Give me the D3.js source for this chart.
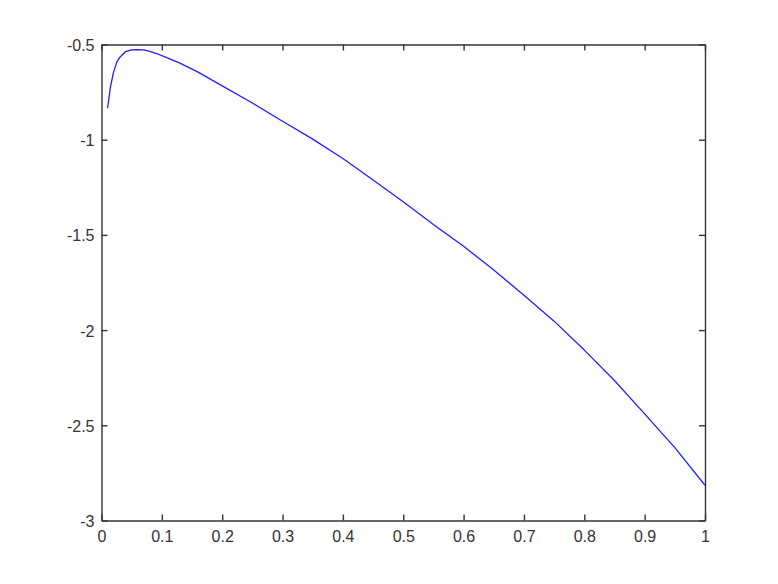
<!DOCTYPE html>
<html>
<head>
<meta charset="utf-8">
<script src="https://cdn.jsdelivr.net/npm/d3@7"></script>
<style>
  body { margin: 0; background: #fff; }
  svg { display: block; }
  .axis text { font-family: "Liberation Sans", Arial, sans-serif; font-size: 16px; fill: #333; }
  .axis path, .axis line { stroke: #333; stroke-width: 1.4; }
</style>
</head>
<body>
<svg id="chart"></svg>
<script>
//* Data
const xValues = [0.01, 0.015, 0.02, 0.025, 0.03, 0.04, 0.05, 0.06, 0.07, 0.08, 0.09, 0.1,
  0.13, 0.16, 0.2, 0.25, 0.3, 0.35, 0.4, 0.45, 0.5, 0.55, 0.6, 0.65, 0.7, 0.75,
  0.8, 0.85, 0.9, 0.95, 1.0];
const yValues = [-0.835, -0.72, -0.645, -0.595, -0.568, -0.537, -0.528, -0.527, -0.528, -0.536, -0.546, -0.558,
  -0.598, -0.645, -0.717, -0.807, -0.903, -0.997, -1.099, -1.212, -1.326, -1.445, -1.56, -1.684, -1.817, -1.953,
  -2.105, -2.265, -2.44, -2.617, -2.815];
const xTicks = [0, 0.1, 0.2, 0.3, 0.4, 0.5, 0.6, 0.7, 0.8, 0.9, 1];
const yTicks = [-3, -2.5, -2, -1.5, -1, -0.5];

const data = xValues.map((x, i) => ({ x: x, y: yValues[i] }));

//* Set chart area
const width = 778;
const height = 584;
const margin = { top: 44.5, right: 73, bottom: 63.5, left: 101.5 };
const innerWidth = width - margin.left - margin.right;
const innerHeight = height - margin.top - margin.bottom;

const svg = d3.select("#chart")
  .attr("width", width)
  .attr("height", height);

const g = svg.append("g")
  .attr("transform", `translate(${margin.left}, ${margin.top})`);

const x = d3.scaleLinear().domain([0, 1]).range([0, innerWidth]);
const y = d3.scaleLinear().domain([-3, -0.5]).range([innerHeight, 0]);

const fmt = d => String(+d.toFixed(2));

// box with inward ticks on all sides
g.append("g")
  .attr("class", "axis")
  .attr("transform", `translate(0, ${innerHeight})`)
  .call(d3.axisBottom(x).tickValues(xTicks).tickFormat(fmt).tickSizeInner(-6).tickSizeOuter(0).tickPadding(10));

g.append("g")
  .attr("class", "axis")
  .call(d3.axisTop(x).tickValues(xTicks).tickSizeInner(-6).tickSizeOuter(0))
  .call(a => a.selectAll("text").remove());

g.append("g")
  .attr("class", "axis")
  .call(d3.axisLeft(y).tickValues(yTicks).tickFormat(fmt).tickSizeInner(-6).tickSizeOuter(0).tickPadding(7))
  .selectAll("text")
  .attr("dy", "0.38em");

g.append("g")
  .attr("class", "axis")
  .attr("transform", `translate(${innerWidth}, 0)`)
  .call(d3.axisRight(y).tickValues(yTicks).tickSizeInner(-6).tickSizeOuter(0))
  .call(a => a.selectAll("text").remove());

//* Curve
const line = d3.line()
  .x(d => x(d.x))
  .y(d => y(d.y));

g.append("path")
  .datum(data)
  .attr("fill", "none")
  .attr("stroke", "#1f1fff")
  .attr("stroke-width", 1.3)
  .attr("stroke-linejoin", "round")
  .attr("d", line);
</script>
</body>
</html>
